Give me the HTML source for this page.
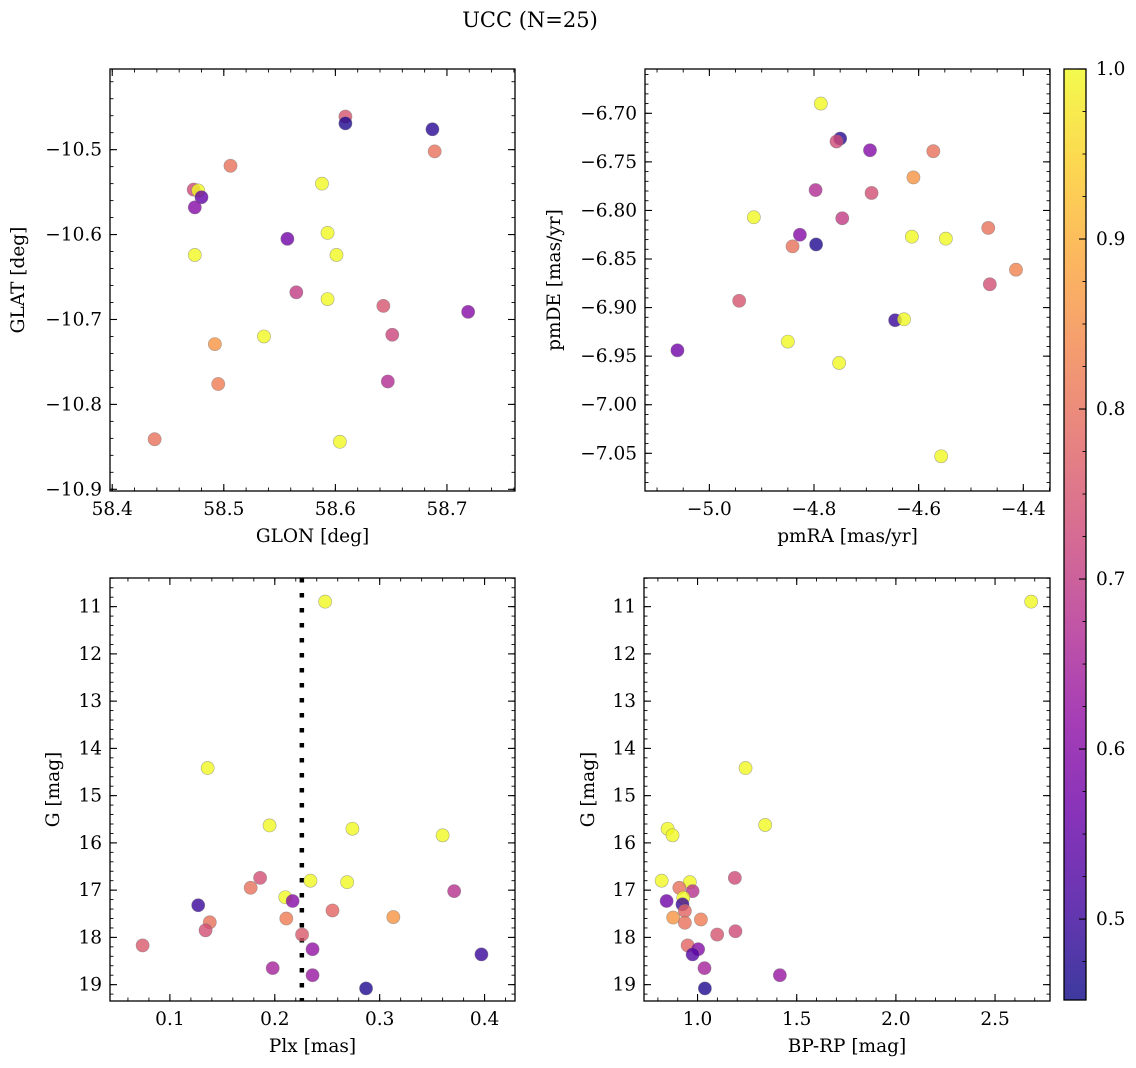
<!DOCTYPE html>
<html><head><meta charset="utf-8">
<style>
html,body{margin:0;padding:0;background:#fff;}
svg{display:block;font-family:"DejaVu Serif","Liberation Serif",serif;}
</style></head>
<body>
<svg id="fig" width="1136" height="1068" viewBox="0 0 1136 1068" xmlns="http://www.w3.org/2000/svg">
<defs>
<linearGradient id="plasma" x1="0" y1="1" x2="0" y2="0">
</linearGradient>
</defs>
<text x="530" y="27" font-size="21" text-anchor="middle">UCC (N=25)</text>
</svg>
<script>
// ---- data ----
const glon = [58.609,58.609,58.687,58.689,58.506,58.473,58.477,58.480,58.474,58.588,58.557,58.593,58.474,58.601,58.565,58.593,58.643,58.719,58.651,58.536,58.492,58.495,58.647,58.438,58.604];
const glat = [-10.461,-10.469,-10.476,-10.502,-10.519,-10.547,-10.548,-10.556,-10.568,-10.540,-10.605,-10.598,-10.624,-10.624,-10.668,-10.676,-10.684,-10.691,-10.718,-10.720,-10.729,-10.776,-10.773,-10.841,-10.844];
const probTL = [0.75,0.47,0.48,0.80,0.80,0.73,1.0,0.55,0.60,1.0,0.57,1.0,1.0,1.0,0.70,1.0,0.75,0.60,0.72,1.0,0.86,0.82,0.67,0.80,1.0];

const pmra = [-4.787,-4.750,-4.757,-4.693,-4.572,-4.610,-4.797,-4.690,-4.915,-4.746,-4.827,-4.841,-4.796,-4.613,-4.548,-4.467,-4.414,-4.464,-4.943,-4.645,-4.628,-4.850,-5.061,-4.752,-4.557];
const pmde = [-6.690,-6.726,-6.729,-6.738,-6.739,-6.766,-6.779,-6.782,-6.807,-6.808,-6.825,-6.837,-6.835,-6.827,-6.829,-6.818,-6.861,-6.876,-6.893,-6.913,-6.912,-6.935,-6.944,-6.957,-7.053];
const probTR = [1.0,0.48,0.73,0.60,0.80,0.86,0.67,0.74,1.0,0.70,0.60,0.80,0.47,1.0,1.0,0.80,0.83,0.74,0.75,0.50,1.0,1.0,0.57,1.0,1.0];

const plx = [0.248,0.136,0.195,0.274,0.360,0.186,0.269,0.234,0.177,0.371,0.210,0.217,0.127,0.255,0.313,0.211,0.138,0.134,0.226,0.074,0.236,0.397,0.198,0.236,0.287];
const gmagBL = [10.894,14.415,15.63,15.70,15.84,16.74,16.83,16.80,16.95,17.02,17.15,17.23,17.32,17.43,17.57,17.60,17.68,17.85,17.94,18.17,18.25,18.36,18.65,18.80,19.08];
const probBL = [1.0,1.0,1.0,1.0,1.0,0.74,1.0,1.0,0.80,0.68,1.0,0.60,0.50,0.78,0.86,0.82,0.80,0.74,0.76,0.76,0.62,0.50,0.65,0.63,0.47];
const plxLine = [0.2258];

const bprp = [2.682,1.242,1.341,0.849,0.874,0.819,0.961,1.188,0.908,0.975,0.928,0.844,0.924,0.936,0.877,1.017,0.936,1.099,1.191,0.950,1.003,0.975,1.035,1.415,1.037];
const gmagBR = [10.894,14.415,15.62,15.70,15.84,16.80,16.83,16.74,16.95,17.02,17.16,17.23,17.30,17.44,17.58,17.62,17.69,17.94,17.87,18.17,18.25,18.36,18.65,18.80,19.08];
const probBR = [1.0,1.0,1.0,1.0,1.0,1.0,1.0,0.73,0.80,0.68,1.0,0.57,0.50,0.78,0.86,0.82,0.80,0.75,0.73,0.78,0.60,0.53,0.65,0.63,0.47];

const ticksGLON = [58.4,58.5,58.6,58.7];
const ticksGLAT = [-10.5,-10.6,-10.7,-10.8,-10.9];
const ticksPMRA = [-5.0,-4.8,-4.6,-4.4];
const ticksPMDE = [-6.70,-6.75,-6.80,-6.85,-6.90,-6.95,-7.00,-7.05];
const ticksPLX = [0.1,0.2,0.3,0.4];
const ticksG = [11,12,13,14,15,16,17,18,19];
const ticksBPRP = [1.0,1.5,2.0,2.5];
const ticksCB = [0.5,0.6,0.7,0.8,0.9,1.0];

// ---- rendering ----
const NS = "http://www.w3.org/2000/svg";
const svg = document.getElementById('fig');
const FS = 18.5;
const stops = ["#0d0887","#41049d","#6a00a8","#8f0da4","#b12a90","#cc4778","#e16462","#f2844b","#fca636","#fcce25","#f0f921"];
const VMIN = 0.4524, VMAX = 1.0;
function hex(h){return [parseInt(h.slice(1,3),16),parseInt(h.slice(3,5),16),parseInt(h.slice(5,7),16)];}
function plasma(t){
  t=Math.max(0,Math.min(1,t));
  const f=t*10, i=Math.min(9,Math.floor(f)), u=f-i;
  const a=hex(stops[i]), b=hex(stops[i+1]);
  return 'rgb('+a.map((v,k)=>Math.round(v+(b[k]-v)*u)).join(',')+')';
}
function el(tag, attrs, parent){
  const e=document.createElementNS(NS,tag);
  for(const k in attrs) e.setAttribute(k,attrs[k]);
  (parent||svg).appendChild(e); return e;
}
function fmt(v,d){ const s=Math.abs(v).toFixed(d); return (v<0?'\u2212':'')+s; }

function panel(cfg){
  const g=el('g',{});
  
  
  const {L,R,T,B}=cfg;
  const sx=v=>L+(v-cfg.x0)/(cfg.x1-cfg.x0)*(R-L);
  const sy=v=>T+(v-cfg.y0)/(cfg.y1-cfg.y0)*(B-T);
  const mg=el('g',{stroke:'#000','stroke-width':0.9},g);
  const xa=Math.min(cfg.x0,cfg.x1), xb=Math.max(cfg.x0,cfg.x1);
  for(let v=Math.ceil(xa/cfg.xm-1e-6)*cfg.xm; v<=xb+1e-9; v+=cfg.xm){
    const x=sx(v); if(x<L-0.5||x>R+0.5) continue;
    el('line',{x1:x,y1:B,x2:x,y2:B-3.5},mg); el('line',{x1:x,y1:T,x2:x,y2:T+3.5},mg);
  }
  const ya=Math.min(cfg.y0,cfg.y1), yb=Math.max(cfg.y0,cfg.y1);
  for(let v=Math.ceil(ya/cfg.ym-1e-6)*cfg.ym; v<=yb+1e-9; v+=cfg.ym){
    const y=sy(v); if(y<T-0.5||y>B+0.5) continue;
    el('line',{x1:L,y1:y,x2:L+3.5,y2:y},mg); el('line',{x1:R,y1:y,x2:R-3.5,y2:y},mg);
  }
  const Mg=el('g',{stroke:'#000','stroke-width':1.1},g);
  cfg.xt.forEach(v=>{
    const x=sx(v);
    el('line',{x1:x,y1:B,x2:x,y2:B-7},Mg); el('line',{x1:x,y1:T,x2:x,y2:T+7},Mg);
    const t=el('text',{x:x,y:B+24,'font-size':FS,'text-anchor':'middle'},g);
    t.textContent=fmt(v,cfg.xd);
    
    
  });
  cfg.yt.forEach(v=>{
    const y=sy(v);
    el('line',{x1:L,y1:y,x2:L+7,y2:y},Mg); el('line',{x1:R,y1:y,x2:R-7,y2:y},Mg);
    const t=el('text',{x:L-8,y:y+6,'font-size':FS,'text-anchor':'end'},g);
    t.textContent=fmt(v,cfg.yd);
    
    
  });
  if(cfg.vline){
    cfg.vline.forEach(v=>{
      const l=el('line',{x1:sx(v),y1:T,x2:sx(v),y2:B,stroke:'#000','stroke-width':4.5,'stroke-dasharray':'4.5 10.5'},g);
      
      
    });
  }
  cfg.xs.forEach((xv,i)=>{
    const c=el('circle',{cx:sx(xv),cy:sy(cfg.ys[i]),r:6.6,fill:plasma((cfg.p[i]-VMIN)/(VMAX-VMIN)),'fill-opacity':0.8,stroke:'#777','stroke-opacity':0.6,'stroke-width':0.6},g);
    
    
  });
  el('rect',{x:L,y:T,width:R-L,height:B-T,fill:'none',stroke:'#000','stroke-width':1.3},g);
  const xl=el('text',{x:(L+R)/2,y:B+51,'font-size':FS,'text-anchor':'middle'},g);
  xl.textContent=cfg.xlabel;
  
  
  const yl=el('text',{x:0,y:0,'font-size':FS,'text-anchor':'middle',transform:`translate(${cfg.ylx},${(T+B)/2}) rotate(-90)`},g);
  yl.textContent=cfg.ylabel;
  
  
}

panel({name:'panel-glon-glat',L:110,R:515,T:69,B:491,x0:58.398,x1:58.761,y0:-10.405,y1:-10.902,
  xm:0.02,ym:0.02,xt:ticksGLON,yt:ticksGLAT,xd:1,yd:1,xs:glon,ys:glat,p:probTL,xlabel:'GLON [deg]',ylabel:'GLAT [deg]',ylx:24});
panel({name:'panel-pmra-pmde',L:645,R:1050,T:69,B:491,x0:-5.123,x1:-4.349,y0:-6.6544,y1:-7.0888,
  xm:0.05,ym:0.01,xt:ticksPMRA,yt:ticksPMDE,xd:1,yd:2,xs:pmra,ys:pmde,p:probTR,xlabel:'pmRA [mas/yr]',ylabel:'pmDE [mas/yr]',ylx:560});
panel({name:'panel-plx-g',L:110,R:515,T:578,B:1001,x0:0.0429,x1:0.429,y0:10.394,y1:19.346,
  xm:0.02,ym:0.2,xt:ticksPLX,yt:ticksG,xd:1,yd:0,xs:plx,ys:gmagBL,p:probBL,xlabel:'Plx [mas]',ylabel:'G [mag]',ylx:59,vline:plxLine});
panel({name:'panel-bprp-g',L:644,R:1050,T:578,B:1001,x0:0.730,x1:2.777,y0:10.394,y1:19.346,
  xm:0.1,ym:0.2,xt:ticksBPRP,yt:ticksG,xd:1,yd:0,xs:bprp,ys:gmagBR,p:probBR,xlabel:'BP-RP [mag]',ylabel:'G [mag]',ylx:594});

const grad=document.getElementById('plasma');
stops.forEach((c,i)=>{ el('stop',{offset:(i*10)+'%','stop-color':c},grad); });
const cb=el('g',{});


const CL=1064,CR=1086,CT=69,CB=1000;
const cy=v=>CB-(v-VMIN)/(VMAX-VMIN)*(CB-CT);
const gr=el('rect',{x:CL,y:CT,width:CR-CL,height:CB-CT,fill:'url(#plasma)','fill-opacity':0.8},cb);


for(let v=0.475; v<=1.0001; v+=0.025){ el('line',{x1:CR,y1:cy(v),x2:CR-3.5,y2:cy(v),stroke:'#000','stroke-width':0.9},cb); }
ticksCB.forEach(v=>{
  el('line',{x1:CR,y1:cy(v),x2:CR-7,y2:cy(v),stroke:'#000','stroke-width':1.1},cb);
  const t=el('text',{x:CR+10,y:cy(v)+6,'font-size':FS},cb);
  t.textContent=v.toFixed(1);
  
  
});
el('rect',{x:CL,y:CT,width:CR-CL,height:CB-CT,fill:'none',stroke:'#000','stroke-width':1.3},cb);
</script>
</body></html>
